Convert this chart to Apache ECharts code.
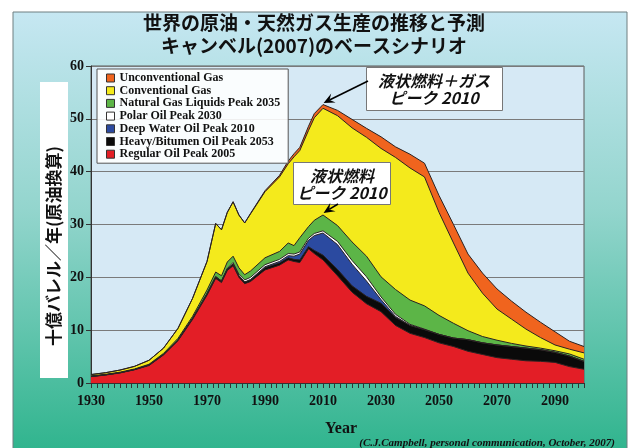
<!DOCTYPE html>
<html>
<head>
<meta charset="utf-8">
<script src="https://cdn.jsdelivr.net/npm/echarts@6/dist/echarts.min.js"></script>
<style>
html, body { margin: 0; padding: 0; background: #ffffff; }
#chart { width: 629px; height: 448px; }
</style>
</head>
<body>
<div id="chart"></div>
<script>
// Production by source, billion barrels of oil equivalent per year (layers listed bottom to top)
const years = [1930, 1935, 1940, 1945, 1950, 1955, 1960, 1965, 1970,
  1973, 1975, 1977, 1979, 1981, 1983, 1985,
  1990, 1995, 1998, 2000, 2002, 2005, 2007, 2010,
  2015, 2020, 2025, 2030, 2035, 2040, 2045, 2050, 2055, 2060, 2065, 2070, 2075, 2080, 2085, 2090, 2095, 2100];

const regularOil = [1.2, 1.5, 1.9, 2.5, 3.3, 5.3, 8.0, 12.0, 16.6,
  19.8, 19.0, 21.3, 22.2, 20.0, 18.8, 19.2,
  21.4, 22.3, 23.3, 23.0, 22.8, 25.4, 24.5, 23.3,
  20.3, 17.2, 15.0, 13.5, 10.9, 9.4, 8.6, 7.6, 6.9, 6.0, 5.4, 4.8, 4.5, 4.2, 4.1, 3.9, 3.1, 2.6];

const heavyOil = [0.05, 0.05, 0.05, 0.05, 0.1, 0.1, 0.15, 0.2, 0.3,
  0.3, 0.3, 0.3, 0.3, 0.3, 0.3, 0.3,
  0.4, 0.4, 0.4, 0.4, 0.5, 0.4, 0.6, 0.9,
  1.2, 1.2, 1.4, 1.6, 1.5, 1.5, 1.5, 1.6, 1.6, 2.2, 2.2, 2.4, 2.4, 2.4, 2.2, 1.9, 2.0, 1.5];

const deepWaterOil = [0, 0, 0, 0, 0, 0, 0, 0, 0,
  0, 0, 0, 0, 0, 0, 0.1,
  0.2, 0.3, 0.4, 0.6, 1.1, 1.2, 2.8, 4.2,
  4.7, 4.1, 2.9, 0.7, 0.2, 0, 0, 0, 0, 0, 0, 0, 0, 0, 0, 0, 0, 0];

const polarOil = [0, 0, 0, 0, 0, 0, 0, 0, 0,
  0, 0, 0.1, 0.3, 0.3, 0.4, 0.4,
  0.4, 0.4, 0.4, 0.4, 0.4, 0.4, 0.4, 0.4,
  0.6, 0.7, 0.8, 0.5, 0.4, 0.2, 0.1, 0, 0, 0, 0, 0, 0, 0, 0, 0, 0, 0];

const gasLiquids = [0.1, 0.1, 0.1, 0.1, 0.15, 0.2, 0.3, 0.4, 0.7,
  0.9, 1.0, 1.2, 1.2, 1.2, 1.0, 1.2,
  1.3, 1.5, 2.0, 1.6, 2.7, 2.2, 2.5, 3.0,
  3.0, 3.5, 3.9, 3.8, 4.7, 4.6, 4.4, 3.6, 2.8, 1.7, 1.2, 0.9, 0.6, 0.4, 0.3, 0.3, 0.4, 0.4];

const conventionalGas = [0.25, 0.3, 0.4, 0.5, 0.75, 1.0, 1.9, 3.4, 5.4,
  9.2, 8.7, 9.4, 10.3, 10.0, 9.8, 10.8,
  12.5, 14.1, 15.0, 16.8, 16.5, 18.2, 19.4, 20.2,
  20.8, 21.6, 22.5, 24.3, 25.0, 25.0, 24.4, 19.5, 15.2, 10.9, 8.2, 5.9, 4.6, 3.2, 2.0, 1.1, 0.9, 1.2];

const unconventionalGas = [0, 0, 0, 0, 0, 0, 0, 0, 0,
  0, 0, 0, 0, 0, 0, 0.1,
  0.2, 0.3, 0.5, 0.6, 0.6, 0.8, 0.8, 0.7,
  1.0, 1.6, 1.7, 2.2, 2.0, 2.6, 2.6, 3.2, 3.5, 3.6, 3.8, 3.8, 3.4, 3.2, 2.9, 2.5, 1.5, 1.2];

const layerNames = [
  'Regular Oil Peak 2005',
  'Heavy/Bitumen Oil Peak 2053',
  'Deep Water Oil Peak 2010',
  'Polar Oil Peak 2030',
  'Natural Gas Liquids Peak 2035',
  'Conventional Gas',
  'Unconventional Gas'
];
const layerValues = [regularOil, heavyOil, deepWaterOil, polarOil, gasLiquids, conventionalGas, unconventionalGas];
const layerColors = ['#e31e26', '#0a0a0a', '#2b4aa0', '#ffffff', '#5cb547', '#f4ea1c', '#f0641e'];

const yTicks = [0, 10, 20, 30, 40, 50, 60];
const xTickLabels = [1930, 1950, 1970, 1990, 2010, 2030, 2050, 2070, 2090];

const serif = '"Liberation Serif", "Times New Roman", serif';
const jp = '"Noto Sans CJK JP", "Noto Sans", sans-serif';

// running totals: each layer's top edge is the sum of it and every layer beneath it
const cumulative = layerValues.map((_, i) =>
  years.map((y, k) => {
    let s = 0;
    for (let j = 0; j <= i; j++) s += layerValues[j][k];
    return Math.round(s * 100) / 100;
  })
);

// draw the tallest layer first so each lower layer paints over it down to zero
const order = [6, 5, 4, 3, 2, 1, 0];
const series = order.map(i => ({
  name: layerNames[i],
  type: 'line',
  symbol: 'none',
  color: layerColors[i],
  itemStyle: { color: layerColors[i] },
  lineStyle: { color: '#2a2222', width: 1 },
  areaStyle: { color: layerColors[i], opacity: 1, origin: 'start' },
  emphasis: { disabled: true },
  data: years.map((y, k) => [y, cumulative[i][k]])
}));

const chart = echarts.init(document.getElementById('chart'), null, { renderer: 'canvas' });

const option = {
  animation: false,
  backgroundColor: '#ffffff',
  grid: {
    left: 91, right: 45, top: 66, bottom: 65,
    show: true,
    backgroundColor: '#d6e9f5',
    borderColor: '#5a5a5a',
    borderWidth: 1
  },
  legend: {
    data: layerNames.slice().reverse(),
    orient: 'vertical',
    left: 97, top: 69,
    icon: 'rect',
    itemWidth: 8, itemHeight: 8,
    itemGap: 0.7,
    padding: [3, 8, 3, 9],
    backgroundColor: 'rgba(255,255,255,0.88)',
    borderColor: '#555555',
    borderWidth: 1,
    selectedMode: false,
    itemStyle: { borderColor: '#333333', borderWidth: 1 },
    textStyle: { fontFamily: serif, fontWeight: 'bold', fontSize: 12, lineHeight: 11, color: '#111111' }
  },
  xAxis: {
    type: 'value',
    min: 1930, max: 2100, interval: 20,
    axisLine: { show: true, lineStyle: { color: '#333333', width: 1 } },
    axisTick: { show: true, length: 5, lineStyle: { color: '#333333' } },
    minorTick: { show: true, splitNumber: 10, length: 5, lineStyle: { color: '#333333' } },
    splitLine: { show: false },
    axisLabel: {
      showMaxLabel: false,
      margin: 11,
      fontFamily: serif, fontWeight: 'bold', fontSize: 14, color: '#111111',
      formatter: v => (xTickLabels.indexOf(v) >= 0 ? String(v) : '')
    }
  },
  yAxis: {
    type: 'value',
    min: yTicks[0], max: yTicks[yTicks.length - 1], interval: 10,
    axisLine: { show: true, lineStyle: { color: '#333333', width: 1 } },
    axisTick: { show: true, length: 5, lineStyle: { color: '#333333' } },
    splitLine: { show: true, lineStyle: { color: '#7a7a7a', width: 1 } },
    axisLabel: { margin: 7, fontFamily: serif, fontWeight: 'bold', fontSize: 14, color: '#111111' }
  },
  series: series
};

chart.setOption(option);

// annotation arrows point at the 2010 peaks of all supply and of liquids only
const iPeak = years.indexOf(2010);
const totalAll = cumulative[6][iPeak];
const totalLiquids = cumulative[4][iPeak];
const tipAll = chart.convertToPixel({ gridIndex: 0 }, [2010.2, totalAll + 0.3]);
const tipLiquids = chart.convertToPixel({ gridIndex: 0 }, [2010.2, totalLiquids + 0.4]);

function arrow(from, to) {
  const dx = to[0] - from[0], dy = to[1] - from[1];
  const len = Math.hypot(dx, dy);
  const ux = dx / len, uy = dy / len;
  const px = -uy, py = ux;
  const hl = 11, hw = 5;
  const base = [to[0] - ux * hl, to[1] - uy * hl];
  const notch = [to[0] - ux * hl * 0.6, to[1] - uy * hl * 0.6];
  return [
    { type: 'line', z: 100, shape: { x1: from[0], y1: from[1], x2: notch[0], y2: notch[1] },
      style: { stroke: '#000000', lineWidth: 1.6 } },
    { type: 'polygon', z: 100,
      shape: { points: [to, [base[0] + px * hw, base[1] + py * hw], notch, [base[0] - px * hw, base[1] - py * hw]] },
      style: { fill: '#000000' } }
  ];
}

const graphics = [
  // panel background
  { type: 'rect', z: -100, silent: true,
    shape: { x: 13, y: 12, width: 614, height: 440 },
    style: {
      fill: new echarts.graphic.LinearGradient(0, 0, 0, 1, [
        { offset: 0, color: '#c6e7f2' },
        { offset: 0.45, color: '#93d5cd' },
        { offset: 1, color: '#2fb48d' }
      ]),
      stroke: '#6f7f80', lineWidth: 1
    } },
  // title
  { type: 'text', z: 100, x: 314, y: 23,
    style: { text: '世界の原油・天然ガス生産の推移と予測', font: 'bold 19px ' + jp, fill: '#111111', align: 'center', verticalAlign: 'middle' } },
  { type: 'text', z: 100, x: 314, y: 46,
    style: { text: 'キャンベル(2007)のベースシナリオ', font: 'bold 19px ' + jp, fill: '#111111', align: 'center', verticalAlign: 'middle' } },
  // y axis name
  { type: 'rect', z: 90, shape: { x: 40, y: 82, width: 28, height: 296 }, style: { fill: '#ffffff' } },
  { type: 'text', z: 100, x: 54, y: 246, rotation: Math.PI / 2,
    style: { text: '十億バレル／年(原油換算)', font: 'bold 17px ' + jp, fill: '#111111', align: 'center', verticalAlign: 'middle' } },
  // x axis name and source
  { type: 'text', z: 100, x: 341, y: 429,
    style: { text: 'Year', font: 'bold 16px ' + serif, fill: '#111111', align: 'center', verticalAlign: 'middle' } },
  { type: 'text', z: 100, x: 615, y: 443,
    style: { text: '(C.J.Campbell, personal communication, October, 2007)', font: 'italic bold 11px ' + serif, fill: '#111111', align: 'right', verticalAlign: 'middle' } },
  // annotation: liquids + gas peak
  { type: 'rect', z: 95, shape: { x: 366.5, y: 67.5, width: 136, height: 43 },
    style: { fill: '#ffffff', stroke: '#777777', lineWidth: 1 } },
  { type: 'text', z: 100, x: 434, y: 81,
    style: { text: '液状燃料＋ガス', font: 'italic bold 16px ' + jp, fill: '#111111', align: 'center', verticalAlign: 'middle' } },
  { type: 'text', z: 100, x: 434, y: 98,
    style: { text: 'ピーク 2010', font: 'italic bold 16px ' + jp, fill: '#111111', align: 'center', verticalAlign: 'middle' } },
  // annotation: liquids peak
  { type: 'rect', z: 95, shape: { x: 293.5, y: 162.5, width: 97, height: 42 },
    style: { fill: '#ffffff', stroke: '#777777', lineWidth: 1 } },
  { type: 'text', z: 100, x: 342, y: 176,
    style: { text: '液状燃料', font: 'italic bold 16px ' + jp, fill: '#111111', align: 'center', verticalAlign: 'middle' } },
  { type: 'text', z: 100, x: 342, y: 193,
    style: { text: 'ピーク 2010', font: 'italic bold 16px ' + jp, fill: '#111111', align: 'center', verticalAlign: 'middle' } }
].concat(arrow([368, 81], tipAll), arrow([338, 204], tipLiquids));

chart.setOption({ graphic: graphics });
</script>
</body>
</html>
